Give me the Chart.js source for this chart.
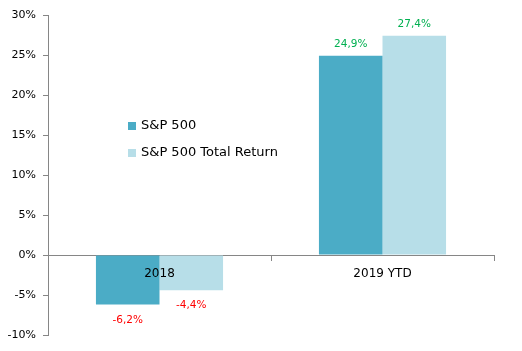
<!DOCTYPE html>
<html>
<head>
<meta charset="utf-8">
<script src="https://cdn.jsdelivr.net/npm/chart.js@4/dist/chart.umd.min.js"></script>
<style>
  html, body { margin: 0; padding: 0; background: #fff; }
  #wrap { width: 522px; height: 351px; }
</style>
</head>
<body>
<div id="wrap"><canvas id="chart" width="522" height="351"></canvas></div>
<script>
const categories = ["2018", "2019 YTD"];
const seriesNames = ["S&P 500", "S&P 500 Total Return"];
const sp500 = [-6.2, 24.9];
const sp500TR = [-4.4, 27.4];
const yTicks = [-10, -5, 0, 5, 10, 15, 20, 25, 30];

const FONT = "'DejaVu Sans', sans-serif";
const axisGray = "#868686";

// value labels above/below each bar
const valueLabels = {
    id: "valueLabels",
    afterDatasetsDraw(chart) {
        const ctx = chart.ctx;
        ctx.save();
        ctx.font = "10.5px " + FONT;
        ctx.textAlign = "center";
        chart.data.datasets.forEach((ds, i) => {
            chart.getDatasetMeta(i).data.forEach((bar, j) => {
                const v = ds.data[j];
                const txt = v.toFixed(1).replace(".", ",") + "%";
                if (v >= 0) {
                    ctx.fillStyle = "#00B050";
                    ctx.textBaseline = "bottom";
                    ctx.fillText(txt, bar.x, bar.y - 6);
                } else {
                    ctx.fillStyle = "#FF0000";
                    ctx.textBaseline = "top";
                    ctx.fillText(txt, bar.x, bar.y + 10);
                }
            });
        });
        ctx.restore();
    }
};

// category names drawn on top of the bars, just under the zero line
const categoryLabels = {
    id: "categoryLabels",
    afterDatasetsDraw(chart) {
        const ctx = chart.ctx;
        const x = chart.scales.x;
        const y0 = chart.scales.y.getPixelForValue(0);
        ctx.save();
        ctx.font = "12px " + FONT;
        ctx.fillStyle = "#000";
        ctx.textAlign = "center";
        ctx.textBaseline = "middle";
        categories.forEach((c, i) => {
            ctx.fillText(c, x.getPixelForValue(i), y0 + 19);
        });
        ctx.restore();
    }
};

// legend drawn inside the plot area
const innerLegend = {
    id: "innerLegend",
    afterDraw(chart) {
        const ctx = chart.ctx;
        ctx.save();
        ctx.font = "13px " + FONT;
        ctx.textBaseline = "middle";
        ctx.textAlign = "left";
        chart.data.datasets.forEach((ds, i) => {
            const y = 126 + i * 27;
            ctx.fillStyle = ds.backgroundColor;
            ctx.fillRect(128, y - 4, 8, 8);
            ctx.fillStyle = "#000";
            ctx.fillText(ds.label, 141, y);
        });
        ctx.restore();
    }
};

new Chart(document.getElementById("chart"), {
    type: "bar",
    data: {
        labels: categories,
        datasets: [
            { label: seriesNames[0], data: sp500, backgroundColor: "#4BACC6" },
            { label: seriesNames[1], data: sp500TR, backgroundColor: "#B7DEE8" }
        ]
    },
    options: {
        responsive: false,
        animation: false,
        events: [],
        layout: { padding: { top: 15, right: 28, bottom: 16, left: 0 } },
        datasets: { bar: { barPercentage: 1, categoryPercentage: 0.57 } },
        plugins: { legend: { display: false }, tooltip: { enabled: false } },
        scales: {
            x: {
                position: { y: 0 },
                border: { display: true, color: axisGray, width: 1 },
                grid: { display: true, offset: true, drawOnChartArea: false, tickLength: 5, color: axisGray },
                ticks: { display: false }
            },
            y: {
                min: -10,
                max: 30,
                afterFit(scale) { scale.width = 48; },
                afterBuildTicks(scale) { scale.ticks = yTicks.map(v => ({ value: v })); },
                border: { display: true, color: axisGray, width: 1 },
                grid: { display: true, drawOnChartArea: false, tickLength: 5, color: axisGray },
                ticks: {
                    color: "#000",
                    padding: 7,
                    font: { family: FONT, size: 11 },
                    callback: v => v + "%"
                }
            }
        }
    },
    plugins: [valueLabels, categoryLabels, innerLegend]
});
</script>
</body>
</html>
